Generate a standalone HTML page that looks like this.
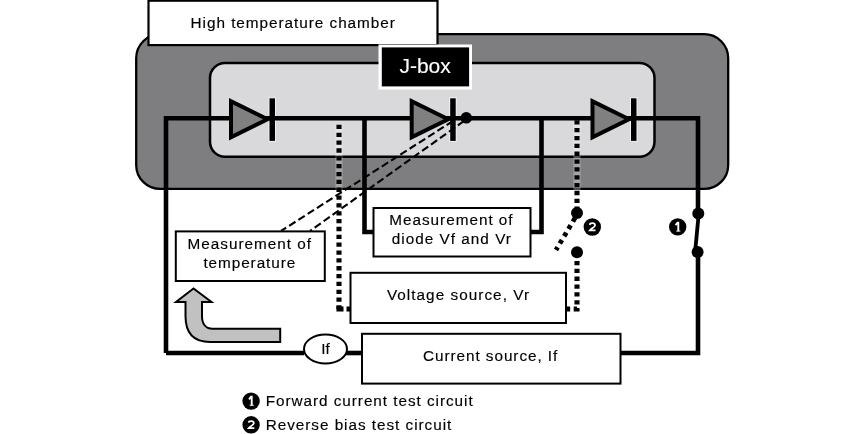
<!DOCTYPE html>
<html><head><meta charset="utf-8">
<style>
html,body{margin:0;padding:0;background:#fff;}
body{width:865px;height:434px;overflow:hidden;position:relative;}
svg{position:absolute;left:0;top:0;will-change:transform;}
text{font-family:"Liberation Sans",sans-serif;}
</style></head>
<body>
<svg width="865" height="434" viewBox="0 0 865 434">
  <rect x="136.2" y="34.2" width="592" height="154.7" rx="24" ry="24" fill="#7e7e80" stroke="#000" stroke-width="2.3"/>
  <rect x="210" y="63" width="444.5" height="93.8" rx="15" ry="15" fill="#d9d9dc" stroke="#000" stroke-width="2.5"/>
  <rect x="148.5" y="0.7" width="289" height="44.4" fill="#fff" stroke="#000" stroke-width="2.2"/>
  <text x="190.60" y="27.80" font-size="15.3" letter-spacing="0.970" fill="#000" stroke="#000" stroke-width="0.15">High temperature chamber</text>
  <rect x="378.5" y="44.5" width="93.5" height="45" fill="#fff"/>
  <rect x="381.8" y="47.4" width="87.3" height="39" fill="#000"/>
  <text x="399.40" y="72.60" font-size="21" letter-spacing="0.000" fill="#fff" stroke="#fff" stroke-width="0.15">J-box</text>
  <rect x="268.5" y="97.3" width="7.5" height="44.6" fill="#fff" fill-opacity="0.6"/>
  <rect x="449.2" y="97.3" width="7.5" height="44.6" fill="#fff" fill-opacity="0.6"/>
  <rect x="630.0" y="97.3" width="7.5" height="44.6" fill="#fff" fill-opacity="0.6"/>
  <path d="M166 353 V118.3 H698 V213.5" fill="none" stroke="#000" stroke-width="4.6" stroke-linejoin="miter"/>
  <path d="M698.6 215 L695.3 250" fill="none" stroke="#000" stroke-width="3.8"/>
  <path d="M698 252 V353 H620" fill="none" stroke="#000" stroke-width="4.6"/>
  <path d="M166 353 H304" fill="none" stroke="#000" stroke-width="4.6"/>
  <path d="M346 353 H362" fill="none" stroke="#000" stroke-width="4.6"/>
  <circle cx="698.3" cy="213.6" r="6" fill="#000"/>
  <circle cx="697.6" cy="252" r="6" fill="#000"/>
  <path d="M364.5 118.3 V232 H374" fill="none" stroke="#000" stroke-width="4.6"/>
  <path d="M541.5 118.3 V232 H530" fill="none" stroke="#000" stroke-width="4.6"/>
  <path d="M339 124.8 V309 H350" fill="none" stroke="#fff" stroke-opacity="0.3" stroke-width="7"/>
  <path d="M339 124.8 V309" fill="none" stroke="#000" stroke-width="5.1" stroke-dasharray="4.3 3.55"/>
  <path d="M339 306 V309 H343.5 M346.5 309 H351" fill="none" stroke="#000" stroke-width="5.1" stroke-linejoin="miter"/>
  <path d="M577 121 V207" fill="none" stroke="#fff" stroke-opacity="0.3" stroke-width="7"/>
  <path d="M577 120.2 V208" fill="none" stroke="#000" stroke-width="5.1" stroke-dasharray="4.3 3.55"/>
  <path d="M577 260.9 V309 H566" fill="none" stroke="#000" stroke-width="5.1" stroke-dasharray="4.3 3.55"/>
  <path d="M575 218 L556 250" fill="none" stroke="#000" stroke-width="4.8" stroke-dasharray="4.2 4.3"/>
  <circle cx="577" cy="213" r="6" fill="#000"/>
  <circle cx="577" cy="252.3" r="6" fill="#000"/>
  <g>
    <polygon points="229,98 229,140.5 272,119.25" fill="#000"/>
    <polygon points="233,104.44 233,134.06 262.97,119.25" fill="#808080"/>
    <rect x="269.5" y="98.3" width="5.5" height="42.6" fill="#000"/>
  </g>
  <g transform="translate(180.7,0)">
    <polygon points="229,98 229,140.5 272,119.25" fill="#000"/>
    <polygon points="233,104.44 233,134.06 262.97,119.25" fill="#808080"/>
    <rect x="269.5" y="98.3" width="5.5" height="42.6" fill="#000"/>
  </g>
  <g transform="translate(361.5,0)">
    <polygon points="229,98 229,140.5 272,119.25" fill="#000"/>
    <polygon points="233,104.44 233,134.06 262.97,119.25" fill="#808080"/>
    <rect x="269.5" y="98.3" width="5.5" height="42.6" fill="#000"/>
  </g>
  <circle cx="466.3" cy="117.8" r="5.8" fill="#000"/>
  <path d="M453 121 L281 231" fill="none" stroke="#000" stroke-width="2.1" stroke-dasharray="7.5 3.5"/>
  <path d="M464 121 L310 231" fill="none" stroke="#000" stroke-width="2.1" stroke-dasharray="7.5 3.5"/>
  <rect x="373.5" y="208" width="157" height="48.5" fill="#fff" stroke="#000" stroke-width="2"/>
  <text x="389.20" y="225.20" font-size="15.3" letter-spacing="0.992" fill="#000" stroke="#000" stroke-width="0.15">Measurement of</text>
  <text x="391.80" y="244.10" font-size="15.3" letter-spacing="1.014" fill="#000" stroke="#000" stroke-width="0.15">diode Vf and Vr</text>
  <rect x="175.8" y="231.4" width="149" height="49.6" fill="#fff" stroke="#000" stroke-width="2"/>
  <text x="187.60" y="249.00" font-size="15.3" letter-spacing="0.992" fill="#000" stroke="#000" stroke-width="0.15">Measurement of</text>
  <text x="203.40" y="267.50" font-size="15.3" letter-spacing="0.940" fill="#000" stroke="#000" stroke-width="0.15">temperature</text>
  <rect x="350.5" y="272.8" width="215.5" height="50.2" fill="#fff" stroke="#000" stroke-width="2"/>
  <text x="386.90" y="300.10" font-size="15.3" letter-spacing="1.041" fill="#000" stroke="#000" stroke-width="0.15">Voltage source, Vr</text>
  <rect x="362" y="333.8" width="258.5" height="49.8" fill="#fff" stroke="#000" stroke-width="2"/>
  <text x="423.00" y="360.80" font-size="15.3" letter-spacing="0.947" fill="#000" stroke="#000" stroke-width="0.15">Current source, If</text>
  <ellipse cx="325.5" cy="349" rx="21.5" ry="14.5" fill="#fff" stroke="#000" stroke-width="2"/>
  <text x="321.32" y="353.70" font-size="15.3" letter-spacing="0.000" fill="#000" stroke="#000" stroke-width="0.15">If</text>
  <path d="M193.5 288.5 L176 302 H185.5 V316 C185.5 333 194 342 210 342 H280.2 V328.8 H212.5 C205 328.8 202 323 202 316 V302 H211.5 Z" fill="#c0c1c0" stroke="#000" stroke-width="2"/>
  <circle cx="592.3" cy="227" r="8.7" fill="#000"/>
  <g transform="translate(592.3,227)" fill="none" stroke="#fff"><path d="M-2.5 -2.2 C-2.3 -4.2 2.7 -4.6 2.7 -1.6 C2.7 0.2 -0.8 1.2 -2.4 3.3 H3.2" stroke-width="1.75" stroke-linejoin="miter"/></g>
  <circle cx="677.7" cy="226.9" r="8.7" fill="#000"/>
  <g transform="translate(677.7,226.9)" fill="none" stroke="#fff"><path d="M-2.1 -1.8 L-0.1 -4.3 H0.6 V4.4" stroke-width="1.9" stroke-linejoin="miter"/><path d="M-1.5 4.2 H2.7" stroke-width="0.9"/></g>
  <circle cx="251.1" cy="401.1" r="8.7" fill="#000"/>
  <g transform="translate(251.1,401.1)" fill="none" stroke="#fff"><path d="M-2.1 -1.8 L-0.1 -4.3 H0.6 V4.4" stroke-width="1.9" stroke-linejoin="miter"/><path d="M-1.5 4.2 H2.7" stroke-width="0.9"/></g>
  <text x="265.70" y="405.80" font-size="15.3" letter-spacing="0.959" fill="#000" stroke="#000" stroke-width="0.15">Forward current test circuit</text>
  <circle cx="251.1" cy="424.8" r="8.7" fill="#000"/>
  <g transform="translate(251.1,424.8)" fill="none" stroke="#fff"><path d="M-2.5 -2.2 C-2.3 -4.2 2.7 -4.6 2.7 -1.6 C2.7 0.2 -0.8 1.2 -2.4 3.3 H3.2" stroke-width="1.75" stroke-linejoin="miter"/></g>
  <text x="265.70" y="429.60" font-size="15.3" letter-spacing="0.967" fill="#000" stroke="#000" stroke-width="0.15">Reverse bias test circuit</text>
</svg>

</body></html>
